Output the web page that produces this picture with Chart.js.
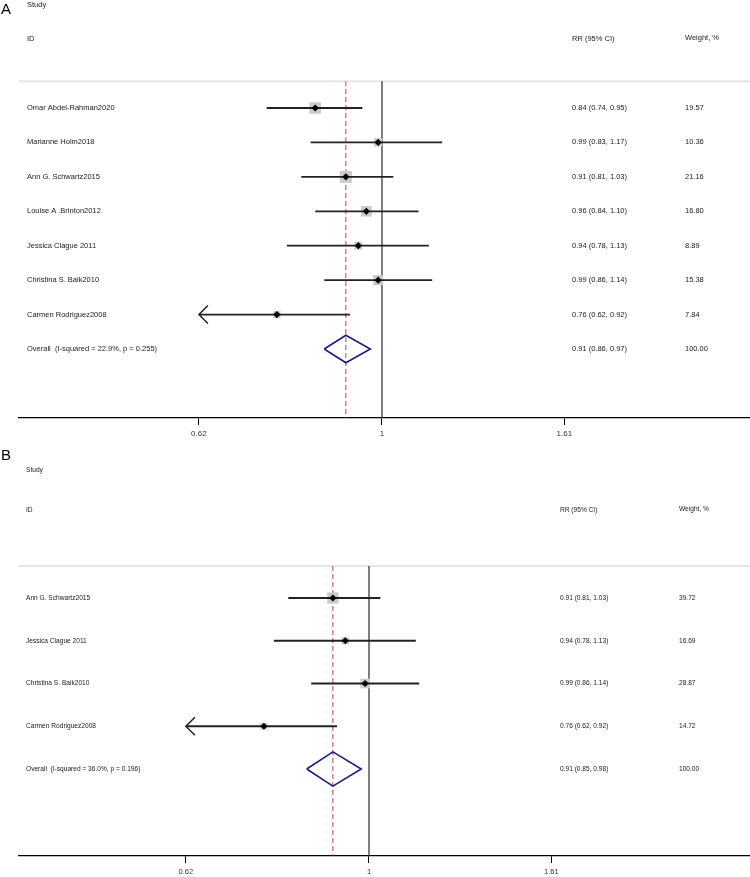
<!DOCTYPE html>
<html>
<head>
<meta charset="utf-8">
<script src="https://cdn.jsdelivr.net/npm/chart.js@4.4.1/dist/chart.umd.min.js"></script>
<style>
  body { margin: 0; background: #fff; }
  #wrap { position: relative; width: 750px; height: 877px; }
  canvas { position: absolute; left: 0; }
</style>
</head>
<body>
<div id="wrap">
  <canvas id="panelA" width="750" height="445" style="top:0"></canvas>
  <canvas id="panelB" width="750" height="432" style="top:445px"></canvas>
</div>
<script>
// === Dados ===
const tickValues = [0.62, 1, 1.61];
const tickLabels = ["0.62", "1", "1.61"];

// Painel A
const studiesA = ["Omar Abdel-Rahman2020", "Marianne Holm2018", "Ann G. Schwartz2015", "Louise A .Brinton2012",
                  "Jessica Clague 2011", "Christina S. Baik2010", "Carmen Rodriguez2008"];
const rrA = [0.84, 0.99, 0.91, 0.96, 0.94, 0.99, 0.76];
const loA = [0.74, 0.83, 0.81, 0.84, 0.78, 0.86, 0.62];
const hiA = [0.95, 1.17, 1.03, 1.10, 1.13, 1.14, 0.92];
const weightA = [19.57, 10.36, 21.16, 16.80, 8.89, 15.38, 7.84];
const overallA = [0.91, 0.86, 0.97];
const overallLabelA = "Overall  (I-squared = 22.9%, p = 0.255)";

// Painel B
const studiesB = ["Ann G. Schwartz2015", "Jessica Clague 2011", "Christina S. Baik2010", "Carmen Rodriguez2008"];
const rrB = [0.91, 0.94, 0.99, 0.76];
const loB = [0.81, 0.78, 0.86, 0.62];
const hiB = [1.03, 1.13, 1.14, 0.92];
const weightB = [39.72, 16.69, 28.87, 14.72];
const overallB = [0.91, 0.85, 0.98];
const overallLabelB = "Overall  (I-squared = 36.0%, p = 0.196)";

const fmt = v => v.toFixed(2);

// === Texto, linha do cabeçalho e setas ===
function forestDecor(p) {
  return {
    id: "forestDecor" + p.letter,
    beforeDatasetsDraw(chart) {
      const { ctx, chartArea, scales: { y } } = chart;
      ctx.save();
      ctx.strokeStyle = "#e6e6e6";
      ctx.lineWidth = 2;
      const yl = y.getPixelForValue(p.lineRow);
      ctx.beginPath();
      ctx.moveTo(chartArea.left, yl);
      ctx.lineTo(chartArea.right, yl);
      ctx.stroke();
      ctx.restore();
    },
    afterDatasetsDraw(chart) {
      const { ctx, scales: { x, y } } = chart;
      ctx.save();
      ctx.strokeStyle = "#222";
      ctx.lineWidth = 1.5;
      p.lo.forEach((lo, i) => {
        if (lo > tickValues[0]) return;
        const px = x.getPixelForValue(lo);
        const py = y.getPixelForValue(i);
        ctx.beginPath();
        ctx.moveTo(px + p.arrow, py - p.arrow);
        ctx.lineTo(px, py);
        ctx.lineTo(px + p.arrow, py + p.arrow);
        ctx.stroke();
      });
      ctx.restore();
    },
    afterDraw(chart) {
      const { ctx, scales: { y } } = chart;
      const n = p.studies.length;
      ctx.save();
      ctx.fillStyle = "#222";
      ctx.textBaseline = "middle";
      ctx.font = p.font + "px 'Liberation Sans', Arial, sans-serif";
      ctx.fillText("Study", p.cols[0], y.getPixelForValue(p.studyRow));
      ctx.fillText("ID", p.cols[0], y.getPixelForValue(p.idRow));
      ctx.fillText("RR (95% CI)", p.cols[1], y.getPixelForValue(p.idRow));
      ctx.fillText("Weight, %", p.cols[2], y.getPixelForValue(p.idRow - 0.03));
      p.studies.forEach((s, i) => {
        const py = y.getPixelForValue(i);
        ctx.fillText(s, p.cols[0], py);
        ctx.fillText(fmt(p.rr[i]) + " (" + fmt(p.lo[i]) + ", " + fmt(p.hi[i]) + ")", p.cols[1], py);
        ctx.fillText(fmt(p.weight[i]), p.cols[2], py);
      });
      const po = y.getPixelForValue(n);
      ctx.fillText(p.overallLabel, p.cols[0], po);
      ctx.fillText(fmt(p.overall[0]) + " (" + fmt(p.overall[1]) + ", " + fmt(p.overall[2]) + ")", p.cols[1], po);
      ctx.fillText("100.00", p.cols[2], po);
      ctx.fillStyle = "#000";
      ctx.font = "15px 'Liberation Sans', Arial, sans-serif";
      ctx.fillText(p.letter, 1, p.letterY);
      ctx.restore();
    }
  };
}

// === Função principal ===
function forestPlot(canvasId, p) {
  const n = p.studies.length;
  const rows = p.studies.map((_, i) => i);
  const [oRR, oLo, oHi] = p.overall;
  const h = 0.4;

  const ciSets = rows.map(i => ({
    data: [{ x: p.lo[i], y: i }, { x: p.hi[i], y: i }],
    showLine: true, borderColor: "#222", borderWidth: 1.8, pointRadius: 0, order: 1
  }));

  new Chart(document.getElementById(canvasId), {
    type: "scatter",
    data: {
      datasets: [
        {
          // ponto estimado
          data: rows.map(i => ({ x: p.rr[i], y: i })),
          pointStyle: "rectRot", pointRadius: 3.6, backgroundColor: "#000", borderColor: "#000",
          borderWidth: 0, order: 0
        },
        ...ciSets,
        {
          // caixas proporcionais ao peso
          data: rows.map(i => ({ x: p.rr[i], y: i })),
          pointStyle: "rect", pointRadius: p.weight.map(w => p.box * Math.sqrt(w) / Math.SQRT2),
          backgroundColor: "#cbcbcb", borderWidth: 0, order: 2
        },
        {
          // diamante do efeito global
          data: [{ x: oLo, y: n }, { x: oRR, y: n - h }, { x: oHi, y: n }, { x: oRR, y: n + h }, { x: oLo, y: n }],
          showLine: true, borderColor: "#1c1c7c", borderWidth: 1.6, pointRadius: 0, order: 1
        },
        {
          // linha de nulidade
          data: [{ x: 1, y: p.lineRow }, { x: 1, y: p.yMax }],
          showLine: true, borderColor: "#3a3a3a", borderWidth: 1.3, pointRadius: 0, order: 3
        },
        {
          // linha do efeito global
          data: [{ x: oRR, y: p.lineRow }, { x: oRR, y: p.yMax }],
          showLine: true, borderColor: "#bf3a50", borderWidth: 1, borderDash: [5, 3], pointRadius: 0, order: 3
        }
      ]
    },
    options: {
      responsive: false,
      animation: false,
      layout: { autoPadding: false, padding: { left: 19, right: 0, top: 0, bottom: 0 } },
      plugins: { legend: { display: false }, tooltip: { enabled: false } },
      scales: {
        x: {
          type: "logarithmic",
          min: p.xMin, max: p.xMax, bounds: "data",
          afterBuildTicks: scale => { scale.ticks = tickValues.map(v => ({ value: v })); },
          afterFit: scale => {
            scale.height = p.axisHeight;
            scale.paddingLeft = 0;
            scale.paddingRight = 0;
          },
          grid: { drawOnChartArea: false, drawTicks: true, tickLength: 7, color: "#000", lineWidth: 1 },
          border: { display: true, color: "#000", width: 1.2 },
          ticks: {
            autoSkip: false, maxRotation: 0, padding: p.tickPad, color: "#333",
            font: { family: "'Liberation Sans', Arial, sans-serif", size: p.tickFont },
            callback: (v, i) => tickLabels[i]
          }
        },
        y: {
          type: "linear", reverse: true, display: false,
          min: p.yMin, max: p.yMax, bounds: "data"
        }
      }
    },
    plugins: [forestDecor(p)]
  });
}

forestPlot("panelA", {
  letter: "A", studies: studiesA, rr: rrA, lo: loA, hi: hiA, weight: weightA,
  overall: overallA, overallLabel: overallLabelA,
  xMin: 0.3876, xMax: 2.614, yMin: -3.137, yMax: 9.004,
  lineRow: -0.78, studyRow: -3, idRow: -2,
  cols: [27, 572, 685], font: 7.5, box: 2.6, arrow: 9,
  axisHeight: 27, tickFont: 8, tickPad: 4, letterY: 10
});

forestPlot("panelB", {
  letter: "B", studies: studiesB, rr: rrB, lo: loB, hi: hiB, weight: weightB,
  overall: overallB, overallLabel: overallLabelB,
  xMin: 0.401, xMax: 2.704, yMin: -3.579, yMax: 6.035,
  lineRow: -0.75, studyRow: -3, idRow: -2.05,
  cols: [26, 560, 679], font: 6.6, box: 1.8, arrow: 9,
  axisHeight: 21, tickFont: 7.5, tickPad: 4, letterY: 11
});
</script>
</body>
</html>
